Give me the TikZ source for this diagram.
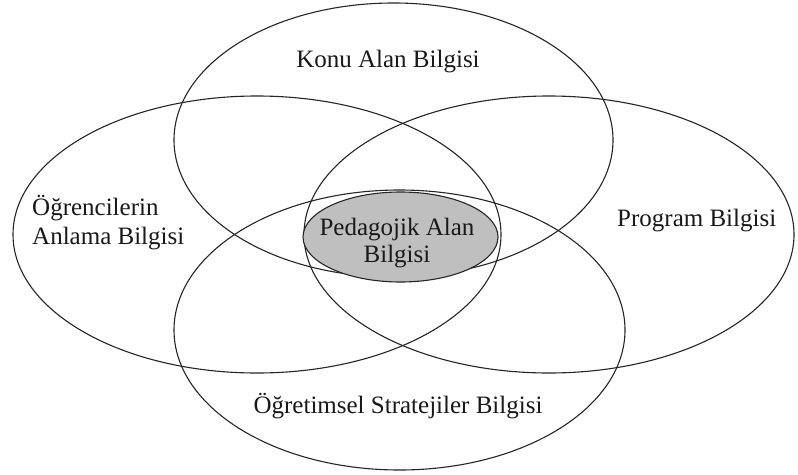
\documentclass[tikz,border=0pt]{standalone}
\usepackage{fontspec}
\setmainfont{Liberation Serif}
\usetikzlibrary{shapes.geometric}
\begin{document}
\begin{tikzpicture}[x=1pt,y=-1pt,
  venn/.style={ellipse, draw=black!85, line width=1.1pt, inner sep=0pt, outer sep=0pt},
  lbl/.style={font=\fontsize{25}{29}\selectfont, inner sep=0pt, text=black!90},
]
\useasboundingbox (0,0) rectangle (798,474);
\fill[white] (0,0) rectangle (798,474);

% the four knowledge domains
\node[venn, minimum width=439pt, minimum height=274pt] (konu) at (393.5,140) {};
\node[venn, minimum width=488pt, minimum height=277pt] (ogrenci) at (257,234.5) {};
\node[venn, minimum width=490pt, minimum height=277pt] (program) at (549,234.5) {};
\node[venn, minimum width=451pt, minimum height=280pt] (strateji) at (399.5,330) {};

% shared core
\node[venn, fill=black!25, minimum width=195pt, minimum height=90pt] (pab) at (400.5,237) {};

% labels
\node[lbl, anchor=base] (konu-t) at (388,67) {Konu Alan Bilgisi};
\node[lbl, anchor=base west] (ogrenci-t) at (32,215)
  {\begin{tabular}[t]{@{}l@{}}Öğrencilerin\\Anlama Bilgisi\end{tabular}};
\node[lbl, anchor=base west] (program-t) at (617,226) {Program Bilgisi};
\node[lbl, font=\fontsize{25}{27}\selectfont, anchor=base] (pab-t) at (397,235)
  {\begin{tabular}[t]{@{}c@{}}Pedagojik Alan\\Bilgisi\end{tabular}};
\node[lbl, anchor=base] (strateji-t) at (398,413) {Öğretimsel Stratejiler Bilgisi};
\end{tikzpicture}
\end{document}
